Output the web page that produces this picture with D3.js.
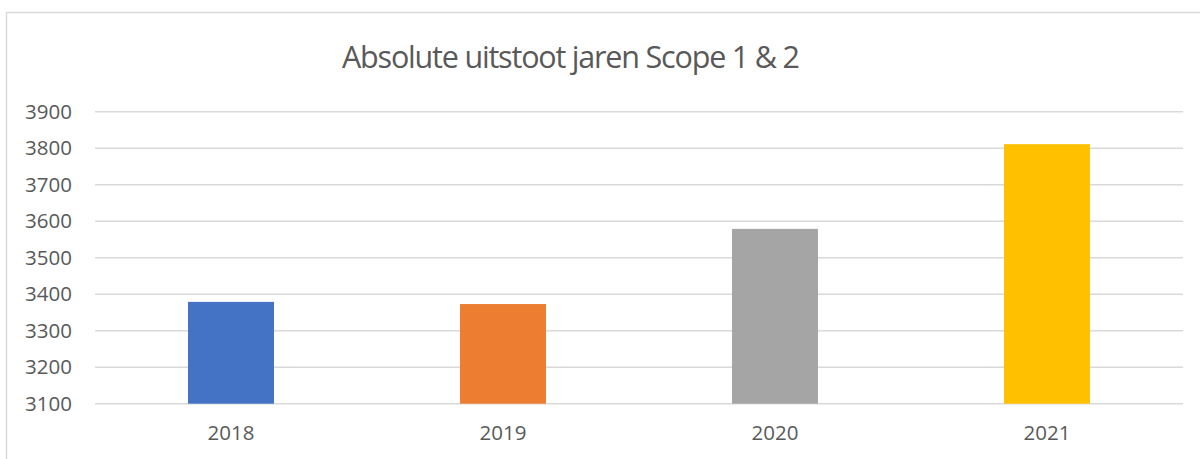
<!DOCTYPE html>
<meta charset="utf-8">
<style>
  body { margin: 0; background: #fff; }
  text { font-family: "Open Sans", sans-serif; fill: #595959; }
</style>
<body>
<div id="chart"></div>
<script src="https://d3js.org/d3.v7.min.js"></script>
<script>
// data
var years = ["2018", "2019", "2020", "2021"];
var emissions = [3379, 3373, 3579, 3811];
var barColors = ["#4472c4", "#ed7d31", "#a5a5a5", "#ffc000"];
var yTicks = [3100, 3200, 3300, 3400, 3500, 3600, 3700, 3800, 3900];
var title = "Absolute uitstoot jaren Scope 1 & 2";

var W = 1200, H = 459;
var margin = {top: 111.7, right: 17, bottom: 55.3, left: 95},
    width = W - margin.left - margin.right,
    height = H - margin.top - margin.bottom;

var svg = d3.select("#chart").append("svg")
    .attr("width", W)
    .attr("height", H);

// chart frame (cropped at right/bottom)
svg.append("rect")
    .attr("x", 6.5).attr("y", 12.5)
    .attr("width", W + 20).attr("height", H + 20)
    .attr("fill", "none")
    .attr("stroke", "#d9d9d9")
    .attr("stroke-width", 1.5);

// title
svg.append("text")
    .attr("x", 571)
    .attr("y", 68)
    .attr("text-anchor", "middle")
    .attr("textLength", 458)
    .attr("lengthAdjust", "spacing")
    .style("font-size", "30.5px")
    .text(title);

var g = svg.append("g")
    .attr("transform", "translate(" + margin.left + "," + margin.top + ")");

var x = d3.scaleBand().domain(years).range([0, width]).paddingInner(0.684).paddingOuter(0.342);
var y = d3.scaleLinear().domain([3100, 3900]).range([height, 0]);

// gridlines
g.selectAll(".grid")
    .data(yTicks)
  .enter().append("line")
    .attr("class", "grid")
    .attr("x1", 0).attr("x2", width)
    .attr("y1", function(d) { return y(d); })
    .attr("y2", function(d) { return y(d); })
    .attr("stroke", "#d9d9d9")
    .attr("stroke-width", 1.5);

// bars
g.selectAll(".bar")
    .data(emissions)
  .enter().append("rect")
    .attr("class", "bar")
    .attr("x", function(d, i) { return x(years[i]); })
    .attr("width", x.bandwidth())
    .attr("y", function(d) { return y(d); })
    .attr("height", function(d) { return height - y(d); })
    .attr("fill", function(d, i) { return barColors[i]; });

// y axis
var yAxis = g.append("g")
    .call(d3.axisLeft(y).tickValues(yTicks).tickFormat(d3.format("d")).tickSize(0).tickPadding(23));
yAxis.select(".domain").remove();
yAxis.selectAll("text").style("font-size", "20.5px").attr("fill", "#595959");

// x axis
var xAxis = g.append("g")
    .attr("transform", "translate(0," + height + ")")
    .call(d3.axisBottom(x).tickSize(0).tickPadding(22));
xAxis.select(".domain").remove();
xAxis.selectAll("text").style("font-size", "20.5px").attr("fill", "#595959");
</script>
</body>
